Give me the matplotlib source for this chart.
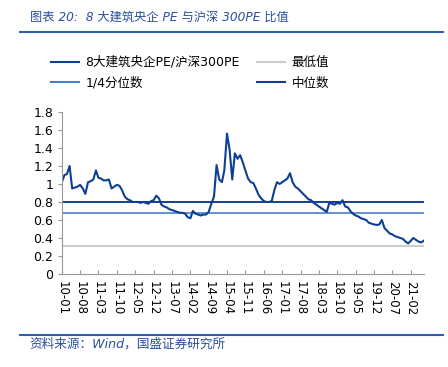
import pandas as pd
import matplotlib.pyplot as plt
from matplotlib.lines import Line2D

plt.rcParams['font.family'] = ['DejaVu Sans', 'Noto Sans CJK SC']

# monthly ratio, 2010-01 .. 2021-07
ratio = [1.02, 1.10, 1.11, 1.20, 0.95, 0.96, 0.97, 0.99, 0.95, 0.89,
         1.02, 1.03, 1.05, 1.15, 1.07, 1.06, 1.04, 1.04, 1.05, 0.95,
         0.97, 0.99, 0.98, 0.93, 0.86, 0.83, 0.82, 0.80, 0.80, 0.80,
         0.79, 0.80, 0.79, 0.78, 0.81, 0.82, 0.87, 0.84, 0.77, 0.75,
         0.74, 0.72, 0.71, 0.70, 0.69, 0.68, 0.68, 0.67, 0.63, 0.62,
         0.70, 0.67, 0.66, 0.65, 0.66, 0.66, 0.69, 0.78, 0.86, 1.21,
         1.05, 1.02, 1.15, 1.56, 1.38, 1.05, 1.34, 1.28, 1.32, 1.24,
         1.15, 1.06, 1.02, 1.01, 0.95, 0.88, 0.84, 0.81, 0.80, 0.80,
         0.81, 0.93, 1.02, 1.00, 1.02, 1.04, 1.06, 1.12, 1.02, 0.97,
         0.95, 0.92, 0.89, 0.86, 0.83, 0.82, 0.79, 0.77, 0.75, 0.73,
         0.71, 0.69, 0.79, 0.78, 0.77, 0.79, 0.78, 0.82, 0.75, 0.74,
         0.70, 0.67, 0.65, 0.64, 0.62, 0.61, 0.60, 0.57, 0.56, 0.55,
         0.545, 0.55, 0.60, 0.51, 0.48, 0.45, 0.44, 0.42, 0.41, 0.40,
         0.39, 0.36, 0.34, 0.37, 0.40, 0.38, 0.36, 0.35, 0.37]
min_val = 0.315
quarter_val = 0.675
median_val = 0.803

tick_labels = ['10-01', '10-08', '11-03', '11-10', '12-05', '12-12', '13-07',
               '14-02', '14-09', '15-04', '15-11', '16-06', '17-01', '17-08',
               '18-03', '18-10', '19-05', '19-12', '20-07', '21-02']

dates = pd.date_range('2010-01-01', periods=len(ratio), freq='MS')
tick_dates = [pd.Timestamp('20' + t + '-01') for t in tick_labels]

main_color = '#0d3f94'
quarter_color = '#4a7ec4'
median_color = '#173d8c'
min_color = '#cccccc'
text_blue = '#2a4f9e'

fig = plt.figure(figsize=(4.48, 3.67), dpi=100)
ax = fig.add_axes([0.138, 0.2534, 0.808, 0.4416])

ax.axhline(min_val, color=min_color, lw=1.5)
ax.axhline(quarter_val, color=quarter_color, lw=1.2)
ax.axhline(median_val, color=median_color, lw=1.4)
ax.plot(dates, ratio, color=main_color, lw=1.5)

ax.set_ylim(0, 1.8)
ax.set_yticks([0, 0.2, 0.4, 0.6, 0.8, 1, 1.2, 1.4, 1.6, 1.8])
ax.set_yticklabels(['0', '0.2', '0.4', '0.6', '0.8', '1', '1.2', '1.4', '1.6', '1.8'])
ax.set_xlim(dates[0], dates[-1])
ax.set_xticks(tick_dates)
ax.set_xticklabels(tick_labels, rotation=270)
ax.tick_params(axis='x', direction='in', length=3, color='#999999', labelsize=8.5, pad=5)
ax.tick_params(axis='y', direction='out', length=3, color='#999999', labelsize=9, pad=3)
for s in ['top', 'right']:
    ax.spines[s].set_visible(False)
for s in ['left', 'bottom']:
    ax.spines[s].set_color('#999999')

# title, source and rules
fig.text(0.066, 0.952, '图表 20:  8 大建筑央企 PE 与沪深 300PE 比值', color=text_blue,
         fontsize=8.8, style='italic', va='center')
fig.add_artist(Line2D([0.045, 0.988], [0.913, 0.913], color='#2f5fae', lw=1.5))
fig.add_artist(Line2D([0.045, 0.988], [0.088, 0.088], color='#2f5fae', lw=1.5))
fig.text(0.066, 0.062, '资料来源：Wind，国盛证券研究所', color=text_blue,
         fontsize=9.1, style='italic', va='center')

# legend
handles = [Line2D([], [], color=main_color, lw=1.5),
           Line2D([], [], color=quarter_color, lw=1.5),
           Line2D([], [], color=min_color, lw=1.5),
           Line2D([], [], color=median_color, lw=1.5)]
labels = ['8大建筑央企PE/沪深300PE', '1/4分位数', '最低值', '中位数']
fig.legend(handles, labels, ncol=2, loc='center left', bbox_to_anchor=(0.089, 0.802),
           frameon=False, fontsize=9, handlelength=2.25, handletextpad=0.5,
           columnspacing=1.4, labelspacing=0.6)

fig.savefig('out.png', dpi=100)
